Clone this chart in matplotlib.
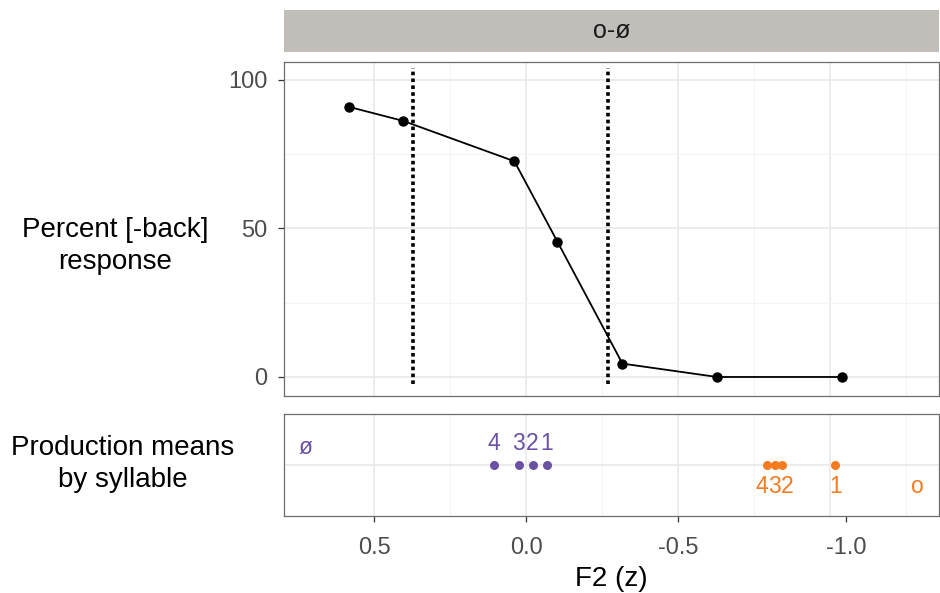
import matplotlib

matplotlib.use("Agg")
import matplotlib.pyplot as plt
import numpy as np

plt.rcParams["font.family"] = ["Liberation Sans", "DejaVu Sans"]

# identification curve (F2 z-score vs percent [-back] responses)
f2_steps = [0.584, 0.406, 0.039, -0.103, -0.317, -0.629, -1.041]
pct_back = [90.9, 86.2, 72.6, 45.5, 4.5, 0.0, 0.0]

# category boundaries (dotted)
boundaries = [0.373, -0.271]

# production means by syllable
oe_means = [0.107, 0.025, -0.021, -0.067]
oe_labels = ["4", "3", "2", "1"]
o_means = [-0.794, -0.819, -0.842, -1.018]
o_labels = ["4", "3", "2", "1"]
vowel_names = ["ø", "o"]
vowel_pos = [0.729, -1.288]

# x axis: tick labels as drawn in the reference (last one sits a bit right of its grid line)
xtick_pos = [0.5, 0.0, -0.5, -1.054]
xtick_labels = ["0.5", "0.0", "-0.5", "-1.0"]
xgrid_major = [0.5, 0.0, -0.5, -1.0]
xgrid_minor = [0.25, -0.25, -0.75, -1.25]

purple = "#6a51a3"
orange = "#f47b20"
grid_major = "#ebebeb"
grid_minor = "#f4f4f4"
xlim = (0.798, -1.36)


def repel(xs, gap):
    # push labels apart so they don't overlap, keep the group centred
    xs = np.array(xs, dtype=float)
    order = np.argsort(-xs)
    pos = xs[order].copy()
    for _ in range(50):
        moved = False
        for i in range(1, len(pos)):
            d = pos[i - 1] - pos[i]
            if d < gap:
                shift = (gap - d) / 2
                pos[i - 1] += shift
                pos[i] -= shift
                moved = True
        if not moved:
            break
    out = np.empty_like(pos)
    out[order] = pos
    return out


def style(ax):
    ax.set_facecolor("white")
    for s in ax.spines.values():
        s.set_color("#6e6e6e")
        s.set_linewidth(0.9)
    ax.tick_params(colors="#333333", labelcolor="#4d4d4d", labelsize=17,
                   length=4, width=0.9)
    ax.set_axisbelow(True)
    for g in xgrid_major:
        ax.axvline(g, color=grid_major, lw=1.3, zorder=0)
    for g in xgrid_minor:
        ax.axvline(g, color=grid_minor, lw=0.8, zorder=0)


fig = plt.figure(figsize=(9.4, 5.93), dpi=100)

# top panel
ax = fig.add_axes([284 / 940, 1 - 396 / 593, 655 / 940, 334 / 593])
style(ax)
ax.set_xlim(*xlim)
ax.set_ylim(-6.4, 106)
ax.set_xticks(xtick_pos)
ax.set_yticks([0, 50, 100])
ax.set_yticks([25, 75], minor=True)
ax.tick_params(axis="x", which="both", bottom=False, labelbottom=False)
ax.tick_params(axis="y", which="minor", left=False)
ax.tick_params(axis="y", pad=8)
ax.grid(True, axis="y", which="major", color=grid_major, lw=1.3)
ax.grid(True, axis="y", which="minor", color=grid_minor, lw=0.8)
for b in boundaries:
    ax.plot([b, b], [-2.5, 104], color="black", lw=2.6, ls=(0, (1, 0.9)))
ax.plot(f2_steps, pct_back, color="black", lw=1.3, marker="o", ms=6.5)

# facet strip
sx = fig.add_axes([284 / 940, 1 - 52 / 593, 655 / 940, 42 / 593])
sx.set_facecolor("#c1bdb9")
sx.set_xticks([])
sx.set_yticks([])
for s in sx.spines.values():
    s.set_visible(False)
sx.text(0.5, 0.5, "o-ø", ha="center", va="center", fontsize=18, color="#1a1a1a")

# bottom panel
bx = fig.add_axes([284 / 940, 1 - 516 / 593, 655 / 940, 102 / 593])
style(bx)
bx.set_xlim(*xlim)
bx.set_ylim(-1, 1)
bx.set_xticks(xtick_pos)
bx.set_xticklabels(xtick_labels)
bx.set_yticks([0])
bx.tick_params(axis="y", left=False, labelleft=False)
bx.tick_params(axis="x", pad=11)
bx.grid(True, axis="y", which="major", color=grid_major, lw=1.3)
bx.set_xlabel("F2 (z)", fontsize=20, labelpad=5)

gap = 12.5 / 304
bx.scatter(oe_means, np.zeros(len(oe_means)), s=42, color=purple, zorder=3, lw=0)
for x, lab in zip(repel(oe_means, gap), oe_labels):
    bx.text(x, 0.42, lab, color=purple, fontsize=16.5, ha="center", va="center")
bx.scatter(o_means, np.zeros(len(o_means)), s=42, color=orange, zorder=3, lw=0)
for x, lab in zip(repel(o_means, gap), o_labels):
    bx.text(x, -0.42, lab, color=orange, fontsize=16.5, ha="center", va="center")
bx.text(vowel_pos[0], 0.35, vowel_names[0], color=purple, fontsize=16.5,
        ha="center", va="center")
bx.text(vowel_pos[1], -0.42, vowel_names[1], color=orange, fontsize=16.5,
        ha="center", va="center")

# row titles
fig.text(115 / 940, 1 - 246 / 593, "Percent [-back]\nresponse", fontsize=20,
         ha="center", va="center", multialignment="center", linespacing=1.3)
fig.text(123 / 940, 1 - 464 / 593, "Production means\nby syllable", fontsize=20,
         ha="center", va="center", multialignment="center", linespacing=1.3)

fig.savefig("out.png", dpi=100, facecolor="white")
